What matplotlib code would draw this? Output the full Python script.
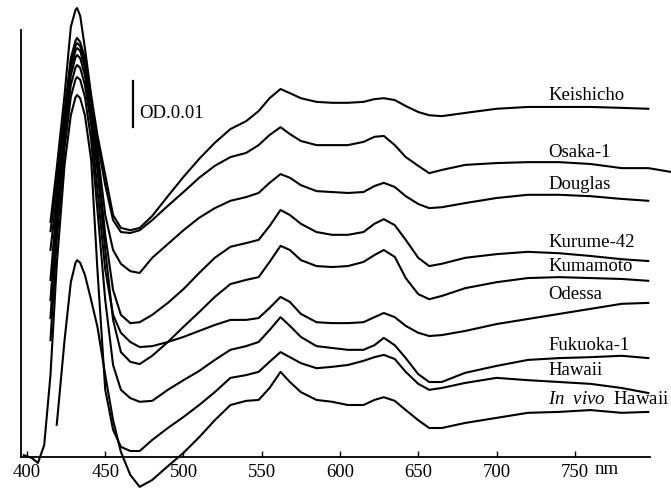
import numpy as np
import matplotlib
matplotlib.use('Agg')
import matplotlib.pyplot as plt

plt.rcParams['font.family'] = ['Liberation Serif', 'DejaVu Serif']
plt.rcParams['mathtext.fontset'] = 'custom'
plt.rcParams['mathtext.it'] = 'Liberation Serif:italic'
plt.rcParams['mathtext.rm'] = 'Liberation Serif'

nan = np.nan

# wavelength grid (nm) and traces in mOD (offset difference spectra)
wl = [398, 403, 407, 411, 415, 419, 424, 428, 431, 432, 434, 437, 441, 445, 450,
      455, 460, 466, 472, 480, 490, 500, 510, 520, 530, 540, 548, 555, 562,
      568, 575, 585, 595, 605, 615, 622, 628, 635, 642, 650, 657, 665, 680,
      700, 720, 740, 760, 780, 797, 811]

keishicho = [nan, nan, nan, nan, 51.1, 62.8, 78.7, 93.5, 97.2, 97.6, 95.9, 88.9, 78.7, 70.0, 61.3,
             52.6, 49.8, 49.3, 49.8, 52.4, 56.7, 60.9, 64.8, 68.3, 71.3, 73.0, 75.2, 78.0, 80.0,
             79.1, 78.0, 77.2, 77.0, 77.0, 77.2, 77.8, 78.0, 77.6, 76.3, 75.0, 74.3, 74.1, 74.8,
             75.7, 76.1, 76.1, 76.1, 75.9, 75.7, nan]
osaka1 = [nan, nan, nan, nan, 49.1, 59.8, 75.4, 86.7, 90.5, 91.1, 90.2, 86.7, 77.6, 68.5, 59.1,
          51.5, 48.9, 48.7, 49.3, 51.5, 54.6, 57.6, 60.7, 63.3, 65.2, 66.1, 67.8, 70.0, 71.7,
          70.2, 68.7, 67.8, 67.8, 67.8, 68.5, 69.6, 69.8, 67.8, 65.2, 63.3, 61.7, 62.4, 63.5,
          63.9, 64.1, 64.1, 63.7, 62.8, 62.8, 62.0]
douglas = [nan, nan, nan, nan, 45.0, 57.0, 74.3, 85.9, 89.4, 90.0, 89.3, 85.9, 76.5, 66.7, 52.6,
           45.0, 42.0, 40.4, 40.0, 43.3, 46.3, 49.3, 52.0, 54.1, 55.7, 56.5, 57.4, 59.6, 61.5,
           60.7, 59.1, 57.8, 57.6, 57.4, 57.6, 58.9, 59.6, 58.7, 56.7, 55.0, 54.1, 54.3, 55.2,
           56.3, 57.0, 57.0, 56.7, 56.1, 55.7, nan]
kurume42 = [nan, nan, nan, nan, 38.5, 54.8, 73.3, 84.6, 88.4, 88.9, 88.3, 84.6, 75.4, 64.6, 48.3,
            36.3, 30.9, 29.1, 29.3, 30.9, 33.5, 36.5, 40.0, 43.3, 45.7, 46.5, 47.2, 50.2, 53.7,
            52.6, 50.7, 48.9, 48.3, 48.3, 48.9, 50.7, 51.7, 50.4, 47.2, 43.3, 41.5, 42.0, 43.3,
            44.1, 44.6, 44.3, 43.7, 43.0, 42.6, nan]
kumamoto = [nan, nan, nan, nan, 34.1, 52.6, 71.5, 83.0, 86.9, 87.4, 86.7, 83.0, 73.7, 62.4, 45.0,
            29.8, 22.8, 20.7, 20.2, 22.0, 25.0, 28.3, 31.5, 34.8, 37.6, 38.5, 39.1, 42.4, 45.9,
            45.0, 42.8, 41.5, 41.3, 41.5, 42.4, 43.9, 45.0, 43.5, 38.9, 35.4, 34.3, 35.0, 36.7,
            38.0, 38.9, 39.1, 38.9, 38.7, 38.3, nan]
odessa = [nan, nan, nan, nan, 30.2, 50.4, 70.0, 80.9, 84.7, 85.2, 84.6, 80.9, 72.2, 58.0, 40.7,
          30.9, 27.0, 25.0, 23.9, 24.1, 25.0, 26.1, 27.4, 28.7, 29.8, 29.8, 30.2, 32.4, 34.8,
          33.7, 31.1, 29.3, 29.1, 29.1, 29.3, 30.4, 31.3, 30.4, 28.5, 27.0, 26.3, 26.5, 27.4,
          28.9, 30.0, 31.1, 32.2, 33.3, 33.5, nan]
fukuoka1 = [nan, nan, nan, nan, 25.4, 47.2, 67.2, 78.3, 82.1, 82.6, 82.0, 78.3, 68.9, 53.7, 34.1,
            20.0, 14.6, 12.8, 12.0, 12.2, 14.6, 16.7, 18.7, 21.1, 23.3, 24.1, 25.0, 27.6, 30.4,
            28.5, 26.1, 24.1, 23.7, 23.3, 23.3, 24.3, 25.9, 24.3, 21.5, 18.0, 16.3, 16.3, 18.3,
            19.8, 21.1, 21.5, 21.7, 22.0, 21.5, nan]
hawaii = [0.4, -0.2, -1.3, 2.6, 17.8, 41.7, 63.5, 74.3, 78.2, 78.7, 78.0, 74.3, 64.6, 40.7, 14.6,
          5.9, 2.2, 1.3, 1.3, 3.7, 6.3, 8.7, 11.3, 14.1, 17.2, 17.8, 18.5, 20.7, 22.8,
          21.7, 20.4, 19.3, 19.6, 20.0, 20.9, 21.7, 22.2, 21.3, 18.5, 15.9, 14.6, 15.0, 16.1,
          17.2, 16.7, 16.3, 15.9, 15.0, 13.9, nan]
invivo_hawaii = [nan, nan, nan, nan, nan, 7.0, 25.4, 38.0, 42.2, 42.8, 42.2, 39.6, 34.1, 28.3, 17.8,
                 8.0, 1.1, -3.9, -6.5, -5.0, -2.0, 0.9, 4.3, 8.0, 11.3, 12.2, 12.4, 15.0, 18.5,
                 16.3, 14.1, 12.4, 12.0, 11.3, 11.3, 12.4, 13.0, 12.2, 10.2, 8.0, 6.3, 6.3, 7.4,
                 8.5, 9.6, 9.8, 10.2, 9.6, 9.8, nan]

traces = [keishicho, osaka1, douglas, kurume42, kumamoto, odessa,
          fukuoka1, hawaii, invivo_hawaii]
names = ['Keishicho', 'Osaka-1', 'Douglas', 'Kurume-42', 'Kumamoto', 'Odessa',
         'Fukuoka-1', 'Hawaii', r'$\it{In\ \ vivo}$  Hawaii']
label_y = [78.5, 66.3, 59.3, 46.7, 41.5, 35.4, 24.3, 18.9, 12.4]
label_x = 733

xticks = [400, 450, 500, 550, 600, 650, 700, 750]

fig = plt.figure(figsize=(6.71, 4.93), dpi=100)
ax = fig.add_axes([0, 0, 1, 1])

for tr in traces:
    ax.plot(wl, tr, color='black', lw=1.5, solid_joinstyle='round')

for name, yy in zip(names, label_y):
    ax.text(label_x, yy, name, fontsize=13.5, va='center', ha='left')

# OD scale bar
ax.plot([467.7, 467.7], [71.7, 81.7], color='black', lw=1.6)
ax.text(471.5, 74.6, 'OD.0.01', fontsize=13.5, va='center', ha='left')

ax.set_xlim(382.75, 811.5)
ax.set_ylim(-7.83, 99.35)

for s in ['top', 'right']:
    ax.spines[s].set_visible(False)
ax.spines['bottom'].set_position(('data', 0))
ax.spines['bottom'].set_bounds(396, 798)
ax.spines['left'].set_position(('data', 396))
ax.spines['left'].set_bounds(0, 92.8)
ax.spines['bottom'].set_linewidth(1.3)
ax.spines['left'].set_linewidth(1.3)

ax.set_xticks(xticks)
ax.set_xticklabels([str(t) for t in xticks])
ax.tick_params(axis='x', direction='in', length=4, width=1, pad=5, labelsize=13.5)
ax.set_yticks([])
ax.text(770.6, -2.8, 'nm', fontsize=13.5, va='center', ha='center')

plt.savefig('out.png', dpi=100)
